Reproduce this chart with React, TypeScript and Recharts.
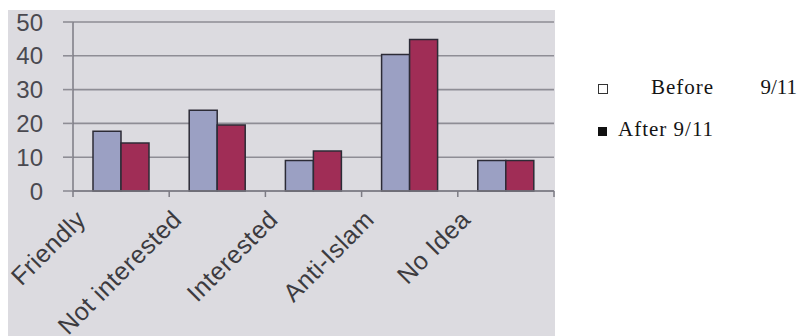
import { Bar, BarChart, CartesianGrid, XAxis, YAxis } from "recharts";

const categories = ["Friendly", "Not interested", "Interested", "Anti-Islam", "No Idea"];
const beforeValues = [17.7, 23.9, 9, 40.4, 9];
const afterValues = [14.2, 19.5, 11.8, 44.8, 9];
const yTicks = [0, 10, 20, 30, 40, 50];

const data = categories.map((name, i) => ({
  name,
  before: beforeValues[i],
  after: afterValues[i],
}));

const GRID = "#8e8d95";
const AXIS = "#7c7b84";
const LABEL = "#3c3b40";

// category labels slanted up-right, plus tick marks on the band edges
function CategoryTick(props: any) {
  const { x, y, payload, index, width, visibleTicksCount } = props;
  const band = (width ?? 481) / (visibleTicksCount ?? categories.length);
  const left = x - band / 2;
  const right = x + band / 2;
  const tx = x - 34;
  const ty = y + 30;
  return (
    <g>
      <line x1={left} x2={left} y1={y} y2={y + 6} stroke={AXIS} strokeWidth={1.5} />
      {index === categories.length - 1 && (
        <line x1={right} x2={right} y1={y} y2={y + 6} stroke={AXIS} strokeWidth={1.5} />
      )}
      <text
        x={tx}
        y={ty}
        transform={`rotate(-45 ${tx} ${ty})`}
        textAnchor="end"
        fill={LABEL}
        fontSize={25}
        letterSpacing={0.5}
        fontFamily="Liberation Sans, Arial, sans-serif"
      >
        {payload.value}
      </text>
    </g>
  );
}

function LegendBox() {
  const font = {
    fontFamily: "Liberation Serif, Times New Roman, serif",
    fontSize: 21,
    letterSpacing: 1,
    lineHeight: "21px",
    color: "#141414",
    whiteSpace: "nowrap" as const,
  };
  return (
    <>
      <div
        style={{
          position: "absolute",
          left: 598,
          top: 84,
          width: 8,
          height: 8,
          border: "1px solid #333",
          background: "#fff",
        }}
      />
      <div
        style={{
          ...font,
          position: "absolute",
          left: 651,
          top: 77,
          width: 146,
          display: "flex",
          justifyContent: "space-between",
        }}
      >
        <span>Before</span>
        <span style={{ letterSpacing: 0 }}>9/11</span>
      </div>
      <div
        style={{
          position: "absolute",
          left: 598,
          top: 127,
          width: 9,
          height: 9,
          background: "#111",
        }}
      />
      <div style={{ ...font, position: "absolute", left: 618, top: 119 }}>After 9/11</div>
    </>
  );
}

export default function App() {
  return (
    <div
      style={{
        position: "fixed",
        left: 0,
        top: 0,
        width: 799,
        height: 336,
        background: "#ffffff",
        overflow: "hidden",
      }}
    >
      <div
        style={{
          position: "absolute",
          left: 8,
          top: 10,
          width: 547,
          height: 326,
          background: "#dcdbe0",
        }}
      >
        <BarChart
          width={547}
          height={326}
          data={data}
          margin={{ top: 12, right: 1, left: 0, bottom: 25 }}
          barCategoryGap={20}
          barGap={0}
        >
          <CartesianGrid stroke={GRID} strokeWidth={1.6} vertical={false} />
          <XAxis
            dataKey="name"
            height={120}
            interval={0}
            tick={<CategoryTick />}
            tickLine={false}
            tickSize={0}
            tickMargin={0}
            axisLine={{ stroke: AXIS, strokeWidth: 1.5 }}
          />
          <YAxis
            domain={[0, 50]}
            ticks={yTicks}
            interval={0}
            width={65}
            tickSize={10}
            tickMargin={20}
            tickLine={{ stroke: GRID, strokeWidth: 1.6 }}
            axisLine={{ stroke: AXIS, strokeWidth: 1.5 }}
            tick={{
              fontSize: 24,
              fill: "#4a4950",
              fontFamily: "Liberation Sans, Arial, sans-serif",
            }}
          />
          <YAxis
            yAxisId="edge"
            orientation="right"
            domain={[0, 50]}
            width={0}
            tick={false}
            tickLine={false}
            axisLine={{ stroke: AXIS, strokeWidth: 1.5 }}
          />
          <Bar
            dataKey="before"
            fill="#9ba0c3"
            stroke="#2c2b36"
            strokeWidth={1.5}
            isAnimationActive={false}
          />
          <Bar
            dataKey="after"
            fill="#a02d56"
            stroke="#2c2b36"
            strokeWidth={1.5}
            isAnimationActive={false}
          />
        </BarChart>
      </div>
      <LegendBox />
    </div>
  );
}
